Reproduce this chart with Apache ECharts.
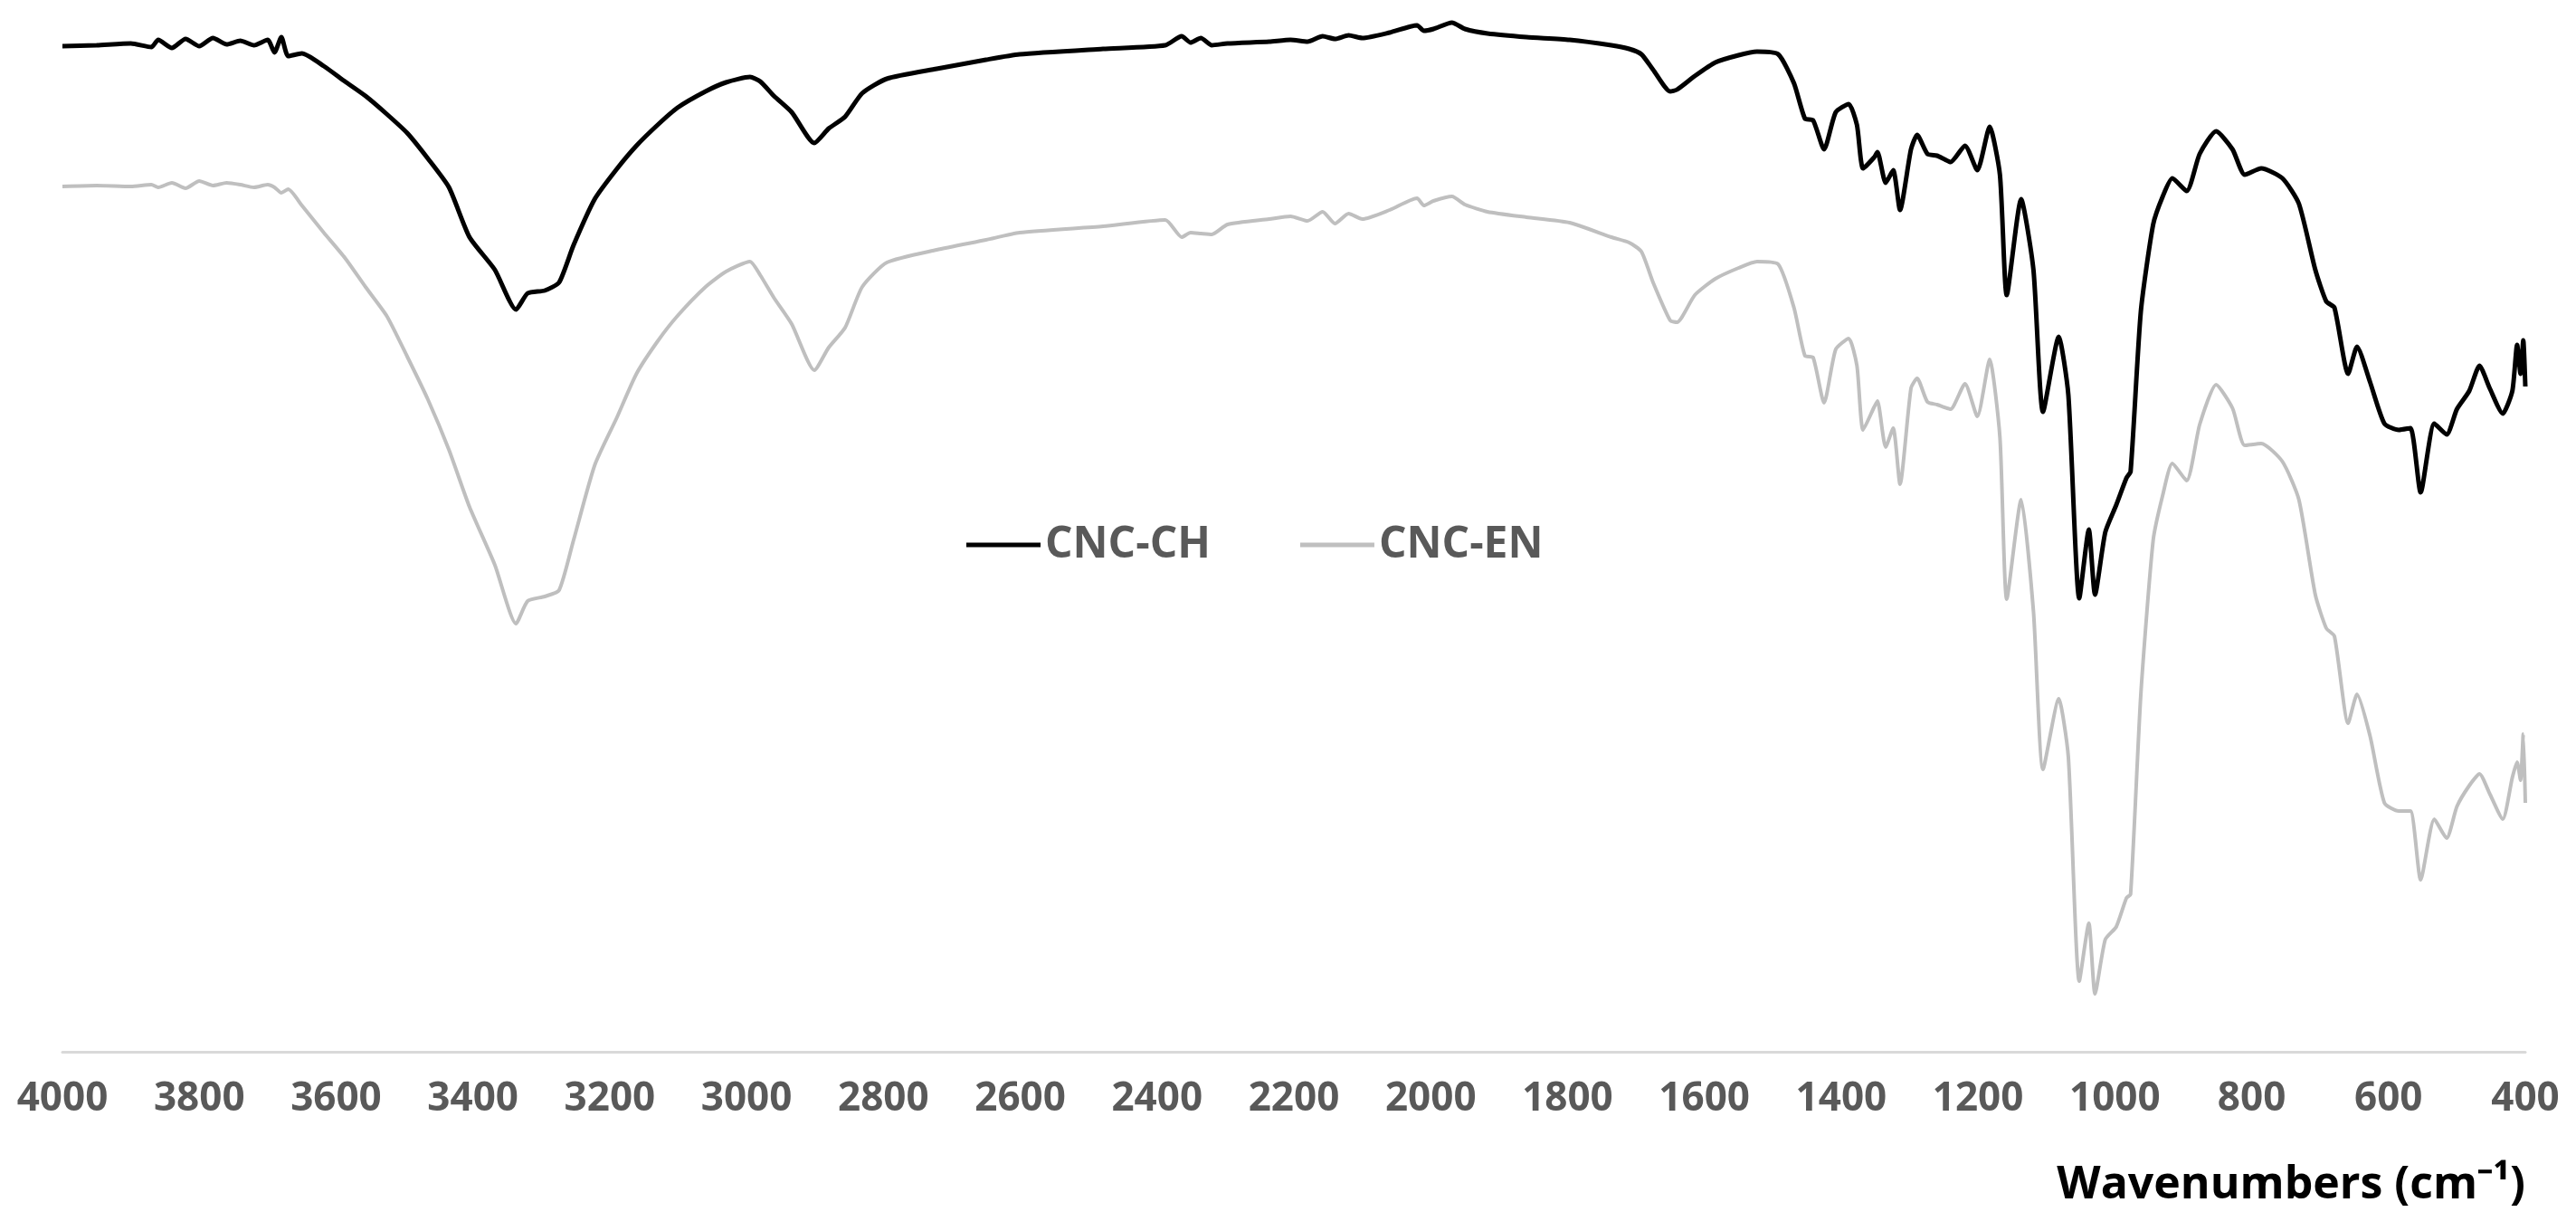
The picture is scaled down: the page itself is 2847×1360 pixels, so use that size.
<!DOCTYPE html>
<html>
<head>
<meta charset="utf-8">
<script src="https://cdn.jsdelivr.net/npm/echarts@6/dist/echarts.min.js"></script>
<style>
  html, body { margin: 0; padding: 0; background: #fff; }
  #chart { width: 2847px; height: 1360px; }
</style>
</head>
<body>
<div id="chart"></div>
<script>
// wavenumbers (cm-1), high to low
const wavenumbers = [
  4000, 3950, 3900, 3870, 3860, 3840, 3820, 3800, 3780, 3760, 3740, 3720, 3700, 3690, 3680, 3670, 3650,
  3618, 3587, 3557, 3526, 3496, 3466, 3435, 3405, 3368, 3337, 3320, 3295, 3274, 3253, 3222, 3190,
  3161, 3130, 3101, 3060, 3030, 2995, 2980, 2960, 2934, 2901, 2880, 2856, 2831, 2795, 2722, 2650,
  2601, 2479, 2388, 2364, 2351, 2336, 2320, 2297, 2236, 2205, 2180, 2158, 2140, 2120, 2100, 2060,
  2020, 2010, 1996, 1969, 1950, 1917, 1860, 1797, 1736, 1710, 1692, 1675, 1650, 1640, 1614, 1584,
  1550, 1523, 1492, 1469, 1453, 1441, 1425, 1408, 1389, 1377, 1368, 1352, 1347, 1335, 1324, 1314,
  1298, 1289, 1274, 1260, 1249, 1240, 1219, 1201, 1183, 1168, 1158, 1137, 1119, 1105, 1082, 1068,
  1052, 1038, 1029, 1014, 998, 983, 977, 962, 944, 930, 916, 895, 876, 852, 828, 810,
  786, 755, 731, 707, 691, 679, 659, 646, 627, 606, 585, 568, 553, 533, 515, 500,
  482, 467, 452, 433, 419, 412, 407, 403, 400
];

// transmittance (arbitrary units, offset curves)
const cncCH = [
  1111, 1112, 1114, 1110, 1118, 1109, 1119, 1111, 1120, 1113, 1117, 1112, 1118, 1104, 1121, 1100, 1103,
  1089, 1072, 1056, 1036, 1015, 987, 955, 900, 864, 820, 838, 841, 850, 891, 942, 975,
  1001, 1024, 1043, 1061, 1071, 1077, 1072, 1056, 1038, 1004, 1020, 1033, 1059, 1075, 1086, 1096,
  1102, 1108, 1112, 1122, 1115, 1120, 1112, 1114, 1116, 1118, 1116, 1122, 1119, 1123, 1120, 1126,
  1134, 1128, 1130, 1137, 1130, 1125, 1121, 1118, 1112, 1108, 1102, 1085, 1061, 1063, 1078, 1093,
  1101, 1105, 1102, 1070, 1031, 1029, 997, 1038, 1047, 1024, 976, 988, 994, 960, 974, 930,
  997, 1013, 992, 990, 986, 983, 1001, 974, 1022, 969, 836, 942, 864, 707, 790, 726,
  501, 577, 505, 574, 604, 634, 641, 818, 914, 945, 965, 951, 992, 1017, 997, 969,
  976, 965, 937, 864, 829, 822, 749, 779, 740, 694, 687, 689, 618, 694, 682, 710,
  730, 758, 733, 705, 730, 781, 749, 786, 735
];

const cncEN = [
  956, 957, 956, 958, 955, 960, 954, 962, 957, 960, 958, 955, 958, 955, 949, 953, 935,
  905, 877, 845, 813, 768, 721, 665, 602, 538, 473, 498, 503, 510, 565, 648, 700,
  749, 785, 813, 845, 862, 873, 858, 833, 804, 753, 778, 800, 845, 872, 886, 897,
  905, 912, 919, 900, 905, 904, 903, 914, 920, 923, 918, 928, 915, 926, 920, 930,
  943, 935, 940, 945, 936, 928, 922, 916, 900, 894, 884, 850, 808, 806, 836, 854,
  866, 873, 870, 822, 769, 767, 717, 776, 788, 758, 687, 712, 719, 668, 689, 627,
  733, 744, 718, 715, 712, 710, 738, 702, 765, 679, 500, 610, 487, 312, 390, 326,
  78, 142, 64, 124, 138, 170, 174, 395, 565, 615, 650, 631, 693, 737, 711, 670,
  672, 652, 610, 505, 468, 459, 363, 395, 349, 275, 266, 266, 190, 257, 236, 271,
  294, 307, 285, 257, 303, 320, 300, 351, 275
];

const xTickMin = 400;
const xTickMax = 4000;
const xTickStep = 200;

const myChart = echarts.init(document.getElementById("chart"));

const option = {
  animation: false,
  backgroundColor: "#ffffff",
  title: {
    text: "Wavenumbers (cm\u207B\u00B9)",
    right: 51,
    top: 1280,
    textStyle: {
      fontFamily: "Open Sans",
      fontSize: 50,
      fontWeight: "bold",
      color: "#000000",
    },
  },
  legend: {
    data: ["CNC-CH", "CNC-EN"],
    left: 1063,
    top: 569,
    icon: "rect",
    itemWidth: 82,
    itemHeight: 5,
    itemGap: 99,
    textStyle: {
      fontFamily: "Open Sans",
      fontSize: 48,
      fontWeight: "bold",
      color: "#595959",
      lineHeight: 56,
    },
  },
  grid: {
    left: 69,
    right: 56,
    top: 0,
    bottom: 198,
  },
  xAxis: {
    type: "value",
    inverse: true,
    min: xTickMin,
    max: xTickMax,
    interval: xTickStep,
    axisLine: {
      lineStyle: { color: "#d9d9d9", width: 3 },
    },
    axisTick: { show: false },
    splitLine: { show: false },
    axisLabel: {
      margin: 30,
      fontFamily: "Open Sans",
      fontSize: 44,
      fontWeight: "bold",
      color: "#595959",
      formatter: function (value) {
        return String(value);
      },
    },
  },
  yAxis: {
    type: "value",
    min: 0,
    max: 1162,
    show: false,
  },
  series: [
    {
      name: "CNC-CH",
      type: "line",
      symbol: "none",
      smooth: 0.2,
      z: 3,
      lineStyle: { color: "#000000", width: 5 },
      itemStyle: { color: "#000000" },
      data: wavenumbers.map((w, i) => [w, cncCH[i]]),
    },
    {
      name: "CNC-EN",
      type: "line",
      symbol: "none",
      smooth: 0.2,
      z: 2,
      lineStyle: { color: "#bfbfbf", width: 4 },
      itemStyle: { color: "#bfbfbf" },
      data: wavenumbers.map((w, i) => [w, cncEN[i]]),
    },
  ],
};

myChart.setOption(option);

window.addEventListener("resize", function () {
  myChart.resize();
});
</script>
</body>
</html>
